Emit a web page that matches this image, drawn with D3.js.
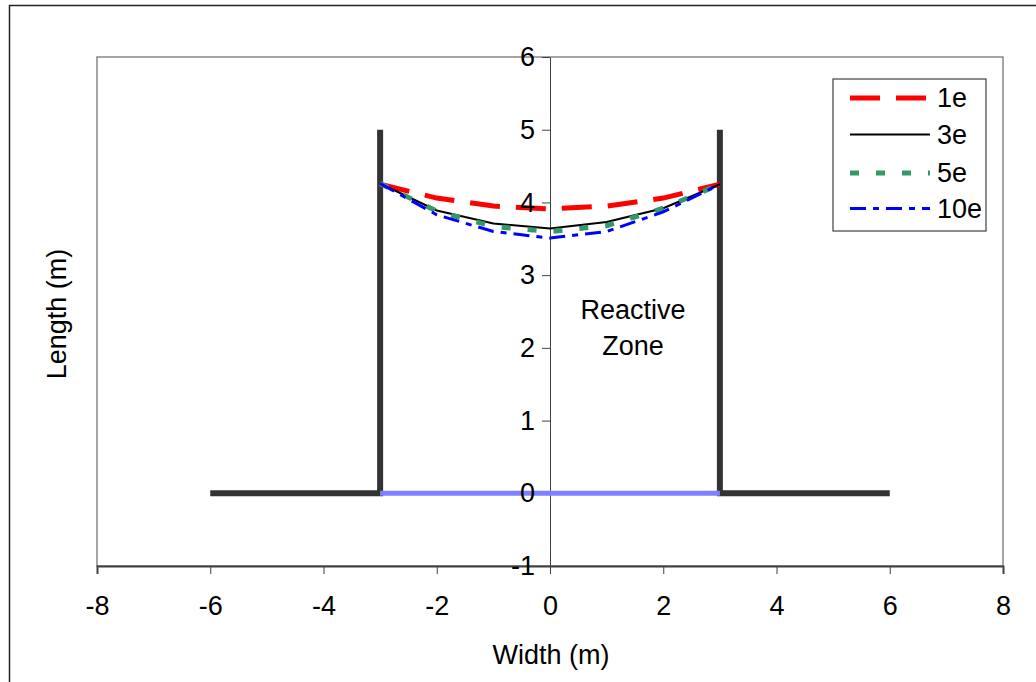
<!DOCTYPE html>
<html>
<head>
<meta charset="utf-8">
<script src="https://cdn.jsdelivr.net/npm/d3@7"></script>
<style>
  body { margin: 0; background: #fff; }
  text { font-family: "Liberation Sans", Arial, sans-serif; }
</style>
</head>
<body>
<div id="chart"></div>
<script>
// series data (x in m, y in m)
var xPts = [-3, -2, -1, 0, 1, 2, 3]
var s1e  = [4.25, 4.06, 3.95, 3.91, 3.95, 4.06, 4.25]
var s3e  = [4.26, 3.89, 3.71, 3.64, 3.73, 3.92, 4.25]
var s5e  = [4.26, 3.88, 3.67, 3.60, 3.68, 3.92, 4.25]
var s10e = [4.26, 3.83, 3.60, 3.51, 3.60, 3.87, 4.25]
var seriesNames = ["1e", "3e", "5e", "10e"]

// walls and base of the zone
var wallLeft  = [[-6, 0], [-3, 0], [-3, 5]]
var wallRight = [[3, 5], [3, 0], [6, 0]]
var baseLine  = [[-3, 0], [3, 0]]

var xTicks = [-8, -6, -4, -2, 0, 2, 4, 6, 8]
var yTicks = [-1, 0, 1, 2, 3, 4, 5, 6]

var W = 1036, H = 682
var FS = 27
var margin = {top: 57, right: 33, bottom: 116, left: 97}
var width = W - margin.left - margin.right,
    height = H - margin.top - margin.bottom

var root = d3.select("#chart").append("svg")
    .attr("width", W)
    .attr("height", H)

// outer frame
root.append("rect")
    .attr("x", 9.5).attr("y", 5.5)
    .attr("width", 1040).attr("height", 700)
    .attr("fill", "none")
    .attr("stroke", "#222")
    .attr("stroke-width", 1.5)

var svg = root.append("g")
    .attr("transform", "translate(" + margin.left + "," + margin.top + ")")

var x = d3.scaleLinear().domain([-8, 8]).range([0, width])
var y = d3.scaleLinear().domain([-1, 6]).range([height, 0])
var fmt = d => String(d)

// plot area border
svg.append("rect")
    .attr("x", 0).attr("y", 0)
    .attr("width", width).attr("height", height)
    .attr("fill", "none")
    .attr("stroke", "#888")
    .attr("stroke-width", 1.5)

// x axis (lines only)
var gx = svg.append("g")
    .attr("transform", "translate(0," + height + ")")
    .call(d3.axisBottom(x).tickValues(xTicks).tickSize(8).tickFormat(""))
gx.select(".domain").attr("stroke", "#404040").attr("stroke-width", 2)
gx.selectAll(".tick line").attr("stroke", "#404040")

// y axis at x = 0 (lines only)
var gy = svg.append("g")
    .attr("transform", "translate(" + x(0) + ",0)")
    .call(d3.axisLeft(y).tickValues(yTicks).tickSize(8).tickSizeOuter(0).tickFormat(""))
gy.select(".domain").attr("stroke", "#404040")
gy.selectAll(".tick line").attr("stroke", "#404040")

var line = d3.line().x(d => x(d[0])).y(d => y(d[1]))

// walls
svg.selectAll(".wall")
    .data([wallLeft, wallRight])
    .enter()
    .append("path")
    .attr("d", line)
    .attr("fill", "none")
    .attr("stroke", "#333")
    .attr("stroke-width", 6)
    .attr("stroke-linejoin", "miter")

svg.append("path")
    .attr("d", line(baseLine))
    .attr("fill", "none")
    .attr("stroke", "#8080ff")
    .attr("stroke-width", 5)

// curves
var styles = [
    {color: "#ff0000", width: 5, dash: "30,16"},
    {color: "#000000", width: 2, dash: null},
    {color: "#339966", width: 5, dash: "9,17"},
    {color: "#0000ff", width: 3, dash: "16,7,6,7"}
]
var allSeries = [s1e, s3e, s5e, s10e]

allSeries.forEach(function(vals, i) {
    var pts = xPts.map((xv, j) => [xv, vals[j]])
    svg.append("path")
        .attr("d", line(pts))
        .attr("fill", "none")
        .attr("stroke", styles[i].color)
        .attr("stroke-width", styles[i].width)
        .attr("stroke-dasharray", styles[i].dash)
})

// tick labels on top
var lx = svg.append("g")
    .attr("transform", "translate(0," + height + ")")
    .call(d3.axisBottom(x).tickValues(xTicks).tickFormat(fmt).tickSize(0).tickPadding(30))
lx.select(".domain").remove()
lx.selectAll("text").attr("font-size", FS).attr("fill", "#000")
    .attr("font-family", "Liberation Sans, Arial, sans-serif")

var ly = svg.append("g")
    .attr("transform", "translate(" + x(0) + ",0)")
    .call(d3.axisLeft(y).tickValues(yTicks).tickFormat(fmt).tickSize(0).tickPadding(15))
ly.select(".domain").remove()
ly.selectAll("text").attr("font-size", FS).attr("fill", "#000")
    .attr("font-family", "Liberation Sans, Arial, sans-serif")

// axis titles
root.append("text")
    .attr("x", 551).attr("y", 664)
    .attr("text-anchor", "middle")
    .attr("font-size", FS)
    .text("Width (m)")

root.append("text")
    .attr("transform", "translate(66,314) rotate(-90)")
    .attr("text-anchor", "middle")
    .attr("font-size", FS)
    .text("Length (m)")

// zone label
root.append("text")
    .attr("x", 633).attr("y", 319)
    .attr("text-anchor", "middle")
    .attr("font-size", FS)
    .text("Reactive")
root.append("text")
    .attr("x", 633).attr("y", 355)
    .attr("text-anchor", "middle")
    .attr("font-size", FS)
    .text("Zone")

// legend
var legend = root.append("g").attr("transform", "translate(833,79)")
legend.append("rect")
    .attr("width", 153).attr("height", 152)
    .attr("fill", "#fff")
    .attr("stroke", "#404040")
    .attr("stroke-width", 1.2)

var legY = [19, 55.5, 94, 129.5]
seriesNames.forEach(function(name, i) {
    legend.append("line")
        .attr("x1", 17).attr("x2", 97)
        .attr("y1", legY[i]).attr("y2", legY[i])
        .attr("stroke", styles[i].color)
        .attr("stroke-width", styles[i].width)
        .attr("stroke-dasharray", styles[i].dash)
    legend.append("text")
        .attr("x", 104).attr("y", legY[i])
        .attr("dy", "0.35em")
        .attr("font-size", FS)
        .text(name)
})
</script>
</body>
</html>
